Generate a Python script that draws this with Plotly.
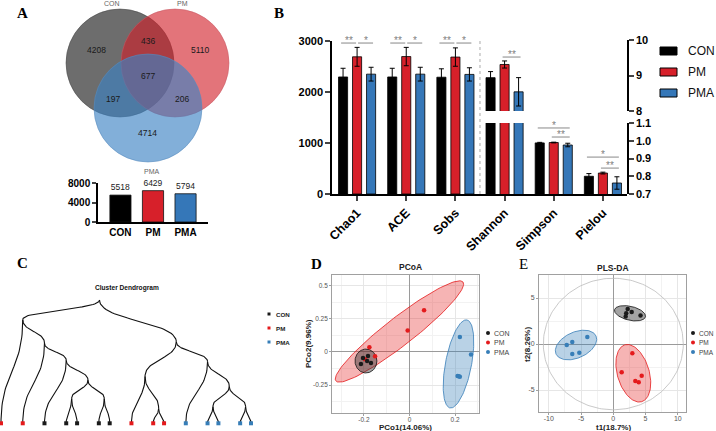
import numpy as np
import plotly.graph_objects as go

W, H = 716, 431
SANS = "Liberation Sans, Arial, Helvetica, sans-serif"
SERIF = "Liberation Serif, Times New Roman, serif"


def fx(p):
    return p / W


def fy(p):
    return 1 - p / H


# ---------------- data ----------------
groups = ["CON", "PM", "PMA"]
bar_colors = ["#000000", "#d7202a", "#3577b8"]
point_colors = ["#1a1a1a", "#e41a1c", "#377eb8"]

# Venn regions
venn_region_labels = ["CON", "PM", "PMA", "CON&PM", "CON&PMA", "PM&PMA", "CON&PM&PMA"]
venn_region_counts = [4208, 5110, 4714, 436, 197, 206, 677]

# total OTUs per group
otu_totals = [5518, 6429, 5794]

# alpha diversity
alpha_metrics = ["Chao1", "ACE", "Sobs", "Shannon", "Simpson", "Pielou"]
alpha_mean_con = [2295, 2295, 2290, 8.94, 0.988, 0.800]
alpha_mean_pm = [2690, 2695, 2685, 9.31, 0.990, 0.818]
alpha_mean_pma = [2350, 2350, 2345, 8.54, 0.976, 0.762]
alpha_sd_con = [170, 170, 165, 0.17, 0.003, 0.015]
alpha_sd_pm = [185, 180, 180, 0.10, 0.002, 0.005]
alpha_sd_pma = [135, 135, 130, 0.40, 0.010, 0.035]

# significance brackets
sig_metric = [0, 0, 1, 1, 2, 2, 3, 4, 4, 5, 5]
sig_from = [0, 1, 0, 1, 0, 1, 1, 0, 1, 0, 1]
sig_to = [1, 2, 1, 2, 1, 2, 2, 2, 2, 2, 2]
sig_height = [2960, 2960, 2960, 2960, 2960, 2960, 9.52, 1.072, 1.021, 0.908, 0.846]
sig_label = ["**", "*", "**", "*", "**", "*", "**", "*", "**", "*", "**"]

# dendrogram
leaf_groups = ["PM", "PM", "CON", "CON", "CON", "CON", "CON", "PM", "PM", "PM",
               "PMA", "PMA", "PMA", "PMA", "PMA"]
leaf_pos = [0, 2, 4, 6, 7, 9, 10, 12, 14, 15, 17, 19, 20, 22, 23]
merge_left = [3, 5, 15, 2, 1, 0, 8, 7, 11, 13, 23, 10, 22, 20]
merge_right = [4, 6, 16, 17, 18, 19, 9, 21, 12, 14, 24, 25, 26, 27]
merge_height = [0.20, 0.20, 0.35, 0.51, 0.65, 0.84, 0.12, 0.38, 0.135, 0.135, 0.30, 0.50, 0.66, 1.00]

# PCoA
pcoa_con_x = [-0.204, -0.182, -0.213, -0.186, -0.169]
pcoa_con_y = [-0.045, -0.030, -0.090, -0.068, -0.083]
pcoa_pm_x = [-0.176, -0.151, -0.008, 0.064, -0.195]
pcoa_pm_y = [0.035, -0.032, 0.162, 0.314, -0.055]
pcoa_pma_x = [0.221, 0.270, 0.211, 0.221, 0.216]
pcoa_pma_y = [0.113, -0.019, -0.180, -0.186, -0.183]
# ellipses: center, semi-axis vectors a and b
pcoa_ell_con = [(-0.191, -0.068), (0.048, 0.0), (0.0, 0.09)]
pcoa_ell_pm = [(-0.044, 0.154), (0.279, 0.372), (0.038, -0.083)]
pcoa_ell_pma = [(0.215, -0.090), (0.037, 0.331), (0.056, -0.019)]

# PLS-DA
plsda_con_x = [2.23, 2.85, 2.00, 1.92, 4.22]
plsda_con_y = [3.80, 3.48, 3.34, 2.99, 3.10]
plsda_pm_x = [2.95, 1.30, 4.40, 3.41, 3.94]
plsda_pm_y = [-1.01, -3.08, -3.45, -4.02, -4.16]
plsda_pma_x = [-4.03, -6.36, -7.22, -5.27, -6.36]
plsda_pma_y = [0.76, 0.22, -0.11, -0.95, -1.09]
plsda_ell_con = [(2.59, 3.34), (2.4, -0.38), (-0.23, -0.74)]
plsda_ell_pm = [(3.10, -3.18), (1.30, -3.09), (2.37, 0.49)]
plsda_ell_pma = [(-5.78, -0.11), (3.10, 0.98), (0.82, -1.28)]
plsda_t2_circle = [(0.0, 0.0), (10.85, 0.0), (0.0, 7.15)]

# ---------------- figure ----------------
fig = go.Figure()
shapes = []
ann = []


def text(x, y, s, size, color="#000", bold=False, family=SANS, xanchor="center",
         yanchor="middle", angle=0):
    ann.append(dict(x=fx(x), y=fy(y), xref="paper", yref="paper", text=s, showarrow=False,
                    font=dict(size=size, color=color, family=family,
                              weight="bold" if bold else "normal"),
                    xanchor=xanchor, yanchor=yanchor, textangle=angle))


# panel letters
text(22, 13, "A", 15, bold=True, family=SERIF)
text(279, 13, "B", 15, bold=True, family=SERIF)
text(22, 263, "C", 15, bold=True, family=SERIF)
text(316, 264, "D", 15, bold=True, family=SERIF)
text(523, 264, "E", 15, family=SERIF)

# ---- Panel A: Venn ----
venn_centers = [(120, 63), (175, 63), (148, 108)]
venn_r = 54
venn_fill = ["rgba(40,40,40,0.68)", "rgba(210,30,40,0.62)", "rgba(60,130,195,0.64)"]
venn_line = ["rgba(70,70,70,0.9)", "rgba(200,90,100,0.9)", "rgba(90,140,190,0.9)"]
for (cx, cy), fc, lc in zip(venn_centers, venn_fill, venn_line):
    shapes.append(dict(type="circle", xref="paper", yref="paper",
                       x0=fx(cx - venn_r), x1=fx(cx + venn_r),
                       y0=fy(cy + venn_r), y1=fy(cy - venn_r),
                       fillcolor=fc, line=dict(color=lc, width=0.6)))
venn_text_pos = [(96, 50), (200, 50), (147, 133), (148, 41), (113, 99), (182, 99), (148, 76)]
for (x, y), c in zip(venn_text_pos, venn_region_counts):
    text(x, y, str(c), 8.5, color="#1a1a1a")
for (x, y), s in zip([(112, 3.5), (182, 3.5), (152, 171)], groups):
    text(x, y, s, 7, color="#666")

# ---- Panel A: totals bar ----
fig.add_trace(go.Bar(x=[0, 1, 2], y=otu_totals, width=0.65,
                     marker=dict(color=bar_colors, line=dict(color="#111", width=0.8)),
                     text=[str(v) for v in otu_totals], textposition="outside",
                     textfont=dict(size=8.5, color="#222", family=SANS),
                     cliponaxis=False, xaxis="x", yaxis="y", showlegend=False))

# ---- Panel B: alpha diversity ----
means = [alpha_mean_con, alpha_mean_pm, alpha_mean_pma]
sds = [alpha_sd_con, alpha_sd_pm, alpha_sd_pma]
OFF = 0.285
BW = 0.185
err_style = dict(type="data", color="#000", thickness=1, width=2.5)
for gi in range(3):
    off = (gi - 1) * OFF
    mk = dict(color=bar_colors[gi], line=dict(color="#000", width=0.8))
    fig.add_trace(go.Bar(x=[m + off for m in range(3)], y=means[gi][:3], width=BW, marker=mk,
                         error_y=dict(array=sds[gi][:3], **err_style),
                         xaxis="x2", yaxis="y2", showlegend=False))
    fig.add_trace(go.Bar(x=[3 + off], y=[means[gi][3]], width=BW, marker=mk,
                         error_y=dict(array=[sds[gi][3]], **err_style),
                         xaxis="x2", yaxis="y3", showlegend=False))
    fig.add_trace(go.Bar(x=[3 + off], y=[means[gi][3]], width=BW, marker=mk,
                         xaxis="x2", yaxis="y4", showlegend=False))
    fig.add_trace(go.Bar(x=[4 + off, 5 + off], y=means[gi][4:], width=BW, marker=mk,
                         error_y=dict(array=sds[gi][4:], **err_style),
                         xaxis="x2", yaxis="y4", showlegend=False))

for m, i, j, h, lab in zip(sig_metric, sig_from, sig_to, sig_height, sig_label):
    yref = "y2" if m < 3 else ("y3" if m == 3 else "y4")
    x0 = m + (i - 1) * OFF - 0.04
    x1 = m + (j - 1) * OFF + 0.04
    if lab == "**" and j - i == 1 and i == 0:
        x1 -= 0.06
    if lab == "*" and j - i == 1:
        x0 += 0.06
    shapes.append(dict(type="line", xref="x2", yref=yref, x0=x0, x1=x1, y0=h, y1=h,
                       line=dict(color="#888", width=1)))
    ann.append(dict(x=(x0 + x1) / 2, y=h, xref="x2", yref=yref, text=lab, showarrow=False,
                    font=dict(size=10, color="#808080", family=SANS), yanchor="bottom",
                    yshift=-5))

# dotted separator
shapes.append(dict(type="line", xref="x2", yref="y2 domain", x0=2.5, x1=2.5, y0=0, y1=1,
                   line=dict(color="#aaa", width=1, dash="dot")))

# legend B
for k, (g, c) in enumerate(zip(groups, bar_colors)):
    yc = 51 + 21 * k
    shapes.append(dict(type="rect", xref="paper", yref="paper", x0=fx(660), x1=fx(677),
                       y0=fy(yc + 4), y1=fy(yc - 4), fillcolor=c,
                       line=dict(color="#000", width=1)))
    text(686, yc, g, 12, color="#111", xanchor="left")

# ---- Panel C: dendrogram ----
node_x = [1.0 * p for p in leaf_pos]
node_y = [0.0] * len(leaf_pos)
children = []
for l, r, h in zip(merge_left, merge_right, merge_height):
    node_x.append((node_x[l] + node_x[r]) / 2)
    node_y.append(h)
    children.append((len(node_x) - 1, l))
    children.append((len(node_x) - 1, r))
tt = np.linspace(0, 1, 40)
ex, ey = [], []
for p, c in children:
    x0, y0, x1, y1 = node_x[p], node_y[p], node_x[c], node_y[c]
    ym = (y0 + y1) / 2
    bx = (1 - tt) ** 3 * x0 + 3 * (1 - tt) ** 2 * tt * x0 + 3 * (1 - tt) * tt ** 2 * x1 + tt ** 3 * x1
    by = (1 - tt) ** 3 * y0 + 3 * (1 - tt) ** 2 * tt * ym + 3 * (1 - tt) * tt ** 2 * ym + tt ** 3 * y1
    ex += list(bx) + [None]
    ey += list(by) + [None]
fig.add_trace(go.Scatter(x=ex, y=ey, mode="lines", line=dict(color="#111", width=1.1),
                         xaxis="x7", yaxis="y7", showlegend=False, hoverinfo="skip"))
gcol = dict(zip(groups, point_colors))
fig.add_trace(go.Scatter(x=leaf_pos, y=[0] * len(leaf_pos), mode="markers",
                         marker=dict(symbol="square", size=4,
                                     color=[gcol[g] for g in leaf_groups]),
                         xaxis="x7", yaxis="y7", showlegend=False, cliponaxis=False))
text(127, 288, "Cluster Dendrogram", 6.6, bold=True, color="#111")
for k, (g, c) in enumerate(zip(groups, point_colors)):
    yc = 314 + 14 * k
    shapes.append(dict(type="rect", xref="paper", yref="paper", x0=fx(267.5), x1=fx(270.5),
                       y0=fy(yc + 1.5), y1=fy(yc - 1.5), fillcolor=c, line=dict(width=0)))
    text(274, yc, g, 6.2, bold=True, color="#222", xanchor="left")


# ---- ellipse helper ----
def ell(params, n=120):
    (cx, cy), (ax, ay), (bx_, by_) = params
    t = np.linspace(0, 2 * np.pi, n)
    return cx + ax * np.cos(t) + bx_ * np.sin(t), cy + ay * np.cos(t) + by_ * np.sin(t)


ell_fill = ["rgba(50,50,50,0.45)", "rgba(228,26,28,0.33)", "rgba(55,126,184,0.35)"]
ell_line = ["#111111", "#e41a1c", "#377eb8"]

# ---- Panel D: PCoA ----
for idx in [1, 0, 2]:
    params = [pcoa_ell_con, pcoa_ell_pm, pcoa_ell_pma][idx]
    xs, ys = ell(params)
    fig.add_trace(go.Scatter(x=xs, y=ys, mode="lines", fill="toself", fillcolor=ell_fill[idx],
                             line=dict(color=ell_line[idx], width=0.8),
                             xaxis="x5", yaxis="y5", showlegend=False, hoverinfo="skip"))
for px_, py_, c in [(pcoa_pm_x, pcoa_pm_y, point_colors[1]),
                    (pcoa_con_x, pcoa_con_y, point_colors[0]),
                    (pcoa_pma_x, pcoa_pma_y, point_colors[2])]:
    fig.add_trace(go.Scatter(x=px_, y=py_, mode="markers", marker=dict(color=c, size=4.5),
                             xaxis="x5", yaxis="y5", showlegend=False))
text(410, 267, "PCoA", 8.5, bold=True, color="#222")
text(405, 427.5, "PCo1(14.06%)", 8, bold=True, color="#222")
text(308, 344, "PCo2(9.96%)", 8, bold=True, color="#222", angle=-90)

# ---- Panel E: PLS-DA ----
xs, ys = ell(plsda_t2_circle, 200)
fig.add_trace(go.Scatter(x=xs, y=ys, mode="lines", line=dict(color="#bbbbbb", width=0.8),
                         xaxis="x6", yaxis="y6", showlegend=False, hoverinfo="skip"))
for idx in [0, 1, 2]:
    params = [plsda_ell_con, plsda_ell_pm, plsda_ell_pma][idx]
    xs, ys = ell(params)
    fig.add_trace(go.Scatter(x=xs, y=ys, mode="lines", fill="toself", fillcolor=ell_fill[idx],
                             line=dict(color=ell_line[idx], width=0.8),
                             xaxis="x6", yaxis="y6", showlegend=False, hoverinfo="skip"))
for px_, py_, c in [(plsda_con_x, plsda_con_y, point_colors[0]),
                    (plsda_pm_x, plsda_pm_y, point_colors[1]),
                    (plsda_pma_x, plsda_pma_y, point_colors[2])]:
    fig.add_trace(go.Scatter(x=px_, y=py_, mode="markers", marker=dict(color=c, size=4.5),
                             xaxis="x6", yaxis="y6", showlegend=False))
text(613, 268, "PLS-DA", 8.5, bold=True, color="#222")
text(613, 427.5, "t1(18.7%)", 8, bold=True, color="#222")
text(527, 345, "t2(8.26%)", 8, bold=True, color="#222", angle=-90)

# legends D and E
for x0, fs in [(488, 7), (693, 6.5)]:
    for k, (g, c) in enumerate(zip(groups, point_colors)):
        yc = 333 + 9.5 * k
        shapes.append(dict(type="circle", xref="paper", yref="paper", x0=fx(x0 - 2),
                           x1=fx(x0 + 2), y0=fy(yc + 2), y1=fy(yc - 2), fillcolor=c,
                           line=dict(width=0)))
        text(x0 + 4, yc, g, fs, color="#444", xanchor="left")

# ---------------- axes ----------------
tick_bold = lambda s: dict(size=s, family=SANS, color="#000", weight="bold")
grid_ax = dict(showgrid=True, gridcolor="#e6e6e6", gridwidth=0.6, zeroline=True,
               zerolinecolor="#9a9a9a", zerolinewidth=0.8, showline=True, mirror=True,
               linecolor="#a0a0a0", linewidth=0.8, ticks="outside", ticklen=2,
               tickcolor="#a0a0a0", automargin=False)

fig.update_layout(
    width=W, height=H, margin=dict(l=0, r=0, t=0, b=0), template="none",
    paper_bgcolor="white", plot_bgcolor="rgba(0,0,0,0)", barmode="overlay", showlegend=False,
    font=dict(family=SANS),
    xaxis=dict(domain=[fx(98), fx(208)], range=[-0.69, 2.69], anchor="y",
               tickvals=[0, 1, 2], ticktext=groups, ticks="", showline=True,
               linecolor="#000", linewidth=1.5, showgrid=False, zeroline=False,
               tickfont=tick_bold(10), automargin=False),
    yaxis=dict(domain=[fy(222), fy(183)], range=[0, 8000], anchor="x",
               tickvals=[0, 4000, 8000], ticks="outside", ticklen=4, tickwidth=1.5,
               showline=True, linecolor="#000", linewidth=1.5, showgrid=False,
               zeroline=False, tickfont=tick_bold(10), automargin=False),
    xaxis2=dict(domain=[fx(332), fx(627)], range=[-0.51, 5.49], anchor="y2",
                tickvals=list(range(6)), ticktext=alpha_metrics, tickangle=-45,
                ticks="outside", ticklen=5, tickwidth=1.5, showline=True, linecolor="#000",
                linewidth=1.5, showgrid=False, zeroline=False, tickfont=tick_bold(12.5),
                automargin=False),
    yaxis2=dict(domain=[fy(194), fy(41)], range=[0, 3000], anchor="x2",
                tickvals=[0, 1000, 2000, 3000], ticks="outside", ticklen=5, tickwidth=1.5,
                showline=True, linecolor="#000", linewidth=1.5, showgrid=False,
                zeroline=False, tickfont=tick_bold(11), automargin=False),
    yaxis3=dict(domain=[fy(111), fy(40)], range=[8, 10], anchor="x2", side="right",
                tickvals=[8, 9, 10], ticks="outside", ticklen=5, tickwidth=1.5,
                showline=True, linecolor="#000", linewidth=1.5, showgrid=False,
                zeroline=False, tickfont=tick_bold(11), automargin=False),
    yaxis4=dict(domain=[fy(194), fy(123)], range=[0.7, 1.1], anchor="x2", side="right",
                tickvals=[0.7, 0.8, 0.9, 1.0, 1.1],
                ticktext=["0.7", "0.8", "0.9", "1.0", "1.1"], ticks="outside", ticklen=5,
                tickwidth=1.5, showline=True, linecolor="#000", linewidth=1.5,
                showgrid=False, zeroline=False, tickfont=tick_bold(11), automargin=False),
    xaxis5=dict(domain=[fx(332), fx(479)], range=[-0.340, 0.305], anchor="y5",
                tickvals=[-0.2, 0, 0.2], ticktext=["-0.2", "0", "0.2"],
                tickfont=dict(size=6.5, color="#555"), ticklabelstandoff=-2,
                minor=dict(tickmode="linear", tick0=0, dtick=0.1, showgrid=True,
                           gridcolor="#f2f2f2", gridwidth=0.5, ticks=""), **grid_ax),
    yaxis5=dict(domain=[fy(413), fy(275)], range=[-0.459, 0.579], anchor="x5",
                tickvals=[-0.25, 0, 0.25, 0.5], ticktext=["-0.25", "0", "0.25", "0.5"],
                tickfont=dict(size=6.5, color="#555"),
                minor=dict(tickmode="linear", tick0=0, dtick=0.125, showgrid=True,
                           gridcolor="#f2f2f2", gridwidth=0.5, ticks=""), **grid_ax),
    xaxis6=dict(domain=[fx(539), fx(686)], range=[-11.52, 11.27], anchor="y6",
                tickvals=[-10, -5, 0, 5, 10], ticktext=["-10", "-5", "0", "5", "10"],
                tickfont=dict(size=7, color="#555"), ticklabelstandoff=-2,
                minor=dict(tickmode="linear", tick0=0, dtick=2.5, showgrid=True,
                           gridcolor="#f2f2f2", gridwidth=0.5, ticks=""), **grid_ax),
    yaxis6=dict(domain=[fy(412), fy(275)], range=[-7.39, 7.5], anchor="x6",
                tickvals=[-5, 0, 5], ticktext=["-5", "0", "5"],
                tickfont=dict(size=7, color="#555"),
                minor=dict(tickmode="linear", tick0=0, dtick=2.5, showgrid=True,
                           gridcolor="#f2f2f2", gridwidth=0.5, ticks=""), **grid_ax),
    xaxis7=dict(domain=[0, fx(262)], range=[-0.092, 24.01], anchor="y7", visible=False),
    yaxis7=dict(domain=[0, fy(280)], range=[-0.0625, 1.162], anchor="x7", visible=False),
    shapes=shapes, annotations=ann,
)

fig.write_html("out.html", config={"displayModeBar": False},
               post_script="document.body.style.margin='0px';"
                           "document.body.style.overflow='hidden';")
